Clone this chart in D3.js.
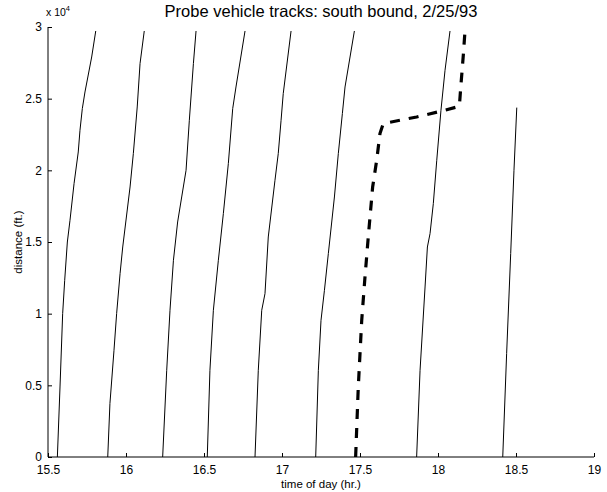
<!DOCTYPE html>
<html>
<head>
  <meta charset="utf-8">
  <title>Probe vehicle tracks</title>
  <script src="https://d3js.org/d3.v7.min.js"></script>
  <style>
    body { margin: 0; background: #fff; }
    svg text { font-family: "Liberation Sans", Arial, sans-serif; fill: #000; }
  </style>
</head>
<body>
  <div id="chart"></div>
  <script>
    // tracks: [time of day (hr), distance (ft)]
    var track1 = [[15.560,0],[15.577,4884],[15.594,10005],[15.607,12328],[15.624,15000],[15.641,16514],[15.667,19075],[15.694,21280],[15.705,22794],[15.720,24308],[15.737,25466],[15.780,27908],[15.806,29722]];
    var track2 = [[15.883,0],[15.897,3726],[15.923,7444],[15.940,10005],[15.962,12796],[15.979,14652],[16.026,18838],[16.047,21168],[16.072,24420],[16.090,27448],[16.117,29722]];
    var track3 = [[16.235,0],[16.261,6049],[16.282,10235],[16.304,13724],[16.331,16396],[16.357,18140],[16.385,20003],[16.406,23492],[16.432,27447],[16.449,29722]];
    var track4 = [[16.521,0],[16.538,6049],[16.560,10235],[16.592,13724],[16.624,16982],[16.656,20470],[16.684,24308],[16.705,25815],[16.763,29722]];
    var track5 = [[16.827,0],[16.848,6049],[16.870,10235],[16.891,11400],[16.912,15349],[16.955,19305],[16.976,21168],[16.994,23492],[17.008,25354],[17.058,29722]];
    var track6 = [[17.216,0],[17.233,6049],[17.250,9537],[17.272,11630],[17.297,14191],[17.336,18140],[17.361,21168],[17.387,23959],[17.404,25815],[17.464,29722]];
    var track7 = [[17.863,0],[17.885,6049],[17.917,11861],[17.932,14652],[17.949,15586],[17.970,17680],[17.992,20701],[18.019,24189],[18.045,26980],[18.077,29722]];
    var track8 = [[18.415,0],[18.440,7214],[18.466,14191],[18.487,20003],[18.505,24377]];
    var probe = [[17.472,0],[17.489,4884],[17.511,9537],[17.532,12559],[17.553,15349],[17.581,18838],[17.607,20701],[17.628,22564],[17.649,23261],[17.863,23722],[18.024,24140],[18.137,24468],[18.146,25815],[18.163,28145],[18.173,29722]];

    var solidTracks = [track1, track2, track3, track4, track5, track6, track7, track8];
    var xTicks = [15.5, 16, 16.5, 17, 17.5, 18, 18.5, 19];
    var yTicks = [0, 5000, 10000, 15000, 20000, 25000, 30000];

    var svg = d3.select("#chart").append("svg")
      .attr("width", 607)
      .attr("height", 492);

    var margin = {top: 27, right: 13, bottom: 35, left: 48};
    var width = 607 - margin.left - margin.right;
    var height = 492 - margin.top - margin.bottom;

    var x = d3.scaleLinear().domain([15.5, 19]).range([0, width]);
    var y = d3.scaleLinear().domain([0, 30000]).range([height, 0]);

    var g = svg.append("g")
      .attr("transform", "translate(" + margin.left + "," + margin.top + ")");

    // axes, ticks point inward
    var xAxis = g.append("g")
      .attr("transform", "translate(0," + height + ")")
      .call(d3.axisBottom(x).tickValues(xTicks).tickSize(-4).tickPadding(8)
        .tickFormat(function(d) { return d; }));
    xAxis.select(".domain").attr("d", "M0,0H" + width);
    xAxis.selectAll("text").style("font-size", "12px");

    var yAxis = g.append("g")
      .call(d3.axisLeft(y).tickValues(yTicks).tickSize(-4).tickPadding(6)
        .tickFormat(function(d) { return d / 10000; }));
    yAxis.select(".domain").attr("d", "M0," + height + "V0");
    yAxis.selectAll("text").style("font-size", "12px");

    var line = d3.line()
      .x(function(d) { return x(d[0]); })
      .y(function(d) { return y(d[1]); });

    g.selectAll(".track")
      .data(solidTracks)
      .enter()
      .append("path")
      .attr("class", "track")
      .attr("d", line)
      .attr("fill", "none")
      .attr("stroke", "#000")
      .attr("stroke-width", 1);

    g.append("path")
      .datum(probe)
      .attr("d", line)
      .attr("fill", "none")
      .attr("stroke", "#000")
      .attr("stroke-width", 3.2)
      .attr("stroke-dasharray", "10,9");

    // exponent label
    var ex = svg.append("text")
      .attr("x", margin.left - 2)
      .attr("y", margin.top - 11)
      .style("font-size", "10.5px");
    ex.append("tspan").text("x 10");
    ex.append("tspan").attr("dy", -5).style("font-size", "7.5px").text("4");

    svg.append("text")
      .attr("x", margin.left + width / 2)
      .attr("y", 17)
      .attr("text-anchor", "middle")
      .style("font-size", "16.5px")
      .text("Probe vehicle tracks: south bound, 2/25/93");

    svg.append("text")
      .attr("x", margin.left + width / 2)
      .attr("y", 488)
      .attr("text-anchor", "middle")
      .style("font-size", "11.5px")
      .text("time of day (hr.)");

    svg.append("text")
      .attr("transform", "rotate(-90)")
      .attr("x", -(margin.top + height / 2))
      .attr("y", 22)
      .attr("text-anchor", "middle")
      .style("font-size", "11.5px")
      .text("distance (ft.)");
  </script>
</body>
</html>
